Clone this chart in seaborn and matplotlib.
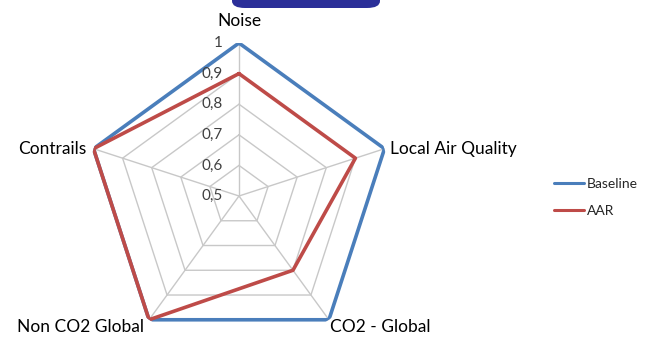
import numpy as np
import pandas as pd
import matplotlib
matplotlib.use('Agg')
import matplotlib.pyplot as plt
from matplotlib.patches import FancyBboxPatch
from matplotlib.lines import Line2D
import seaborn as sns

# data
categories = ['Noise', 'Local Air Quality', 'CO2 - Global', 'Non CO2 Global', 'Contrails']
baseline = [1.0, 1.0, 1.0, 1.0, 1.0]
aar = [0.9, 0.9, 0.8, 1.0, 1.0]
ring_levels = [0.5, 0.6, 0.7, 0.8, 0.9, 1.0]
ring_labels = ['0,5', '0,6', '0,7', '0,8', '0,9', '1']

sns.set_style('white')
plt.rcParams['font.family'] = ['Lato', 'DejaVu Sans']

angles = np.linspace(0, 2 * np.pi, len(categories), endpoint=False)
loop = np.append(angles, angles[0])

# long table for seaborn, closing each polygon
rows = []
for name, vals in [('Baseline', baseline), ('AAR', aar)]:
    closed = vals + [vals[0]]
    for i, (t, v) in enumerate(zip(loop, closed)):
        rows.append({'series': name, 'order': i, 'theta': t, 'value': v})
df = pd.DataFrame(rows)

fig = plt.figure(figsize=(6.52, 3.49), dpi=100)
ax = fig.add_axes([0.1319, 0.0, 0.4693, 0.8768], projection='polar')
ax.set_theta_offset(np.pi / 2)
ax.set_theta_direction(-1)
ax.set_ylim(0.5, 1.0)
ax.grid(False)
ax.spines['polar'].set_visible(False)
ax.set_xticks([])
ax.set_yticks([])

# pentagon grid
for lvl in ring_levels[1:]:
    ax.plot(loop, [lvl] * len(loop), color='#c8c8c8', lw=1, zorder=1)
for t in angles:
    ax.plot([t, t], [0.5, 1.0], color='#c8c8c8', lw=1, zorder=1)

palette = {'Baseline': '#4a7ebb', 'AAR': '#be4b48'}
sns.lineplot(data=df, x='theta', y='value', hue='series', units='series', estimator=None,
             sort=False, palette=palette, lw=2.6, legend=False, ax=ax, zorder=3)
ax.set_xlabel('')
ax.set_ylabel('')

# radial value labels along the top spoke
for lvl, lab in zip(ring_levels, ring_labels):
    ax.annotate(lab, xy=(0, lvl), xytext=(-12, 0), textcoords='offset points',
                ha='right', va='center', fontsize=11, color='#404040')

# category labels
offsets = [((0, 10), 'center', 'bottom'),
           ((4, 0), 'left', 'center'),
           ((1, -5), 'left', 'center'),
           ((-4, -5), 'right', 'center'),
           ((-5, 0), 'right', 'center')]
for t, cat, (off, ha, va) in zip(angles, categories, offsets):
    ax.annotate(cat, xy=(t, 1.0), xytext=off, textcoords='offset points',
                ha=ha, va=va, fontsize=12.5, color='black')

# legend
handles = [Line2D([0], [0], color=palette['Baseline'], lw=2.2),
           Line2D([0], [0], color=palette['AAR'], lw=2.2)]
fig.legend(handles, ['Baseline', 'AAR'], loc='center left', bbox_to_anchor=(0.83, 0.435),
           frameon=False, fontsize=10, handlelength=2.2, handletextpad=0.2, labelspacing=1.1)

# dark blue title box cut off at the top
box = FancyBboxPatch((232 / 652, 1 - 8 / 349), 148 / 652, 30 / 349,
                     boxstyle='round,pad=0,rounding_size=0.02', transform=fig.transFigure,
                     facecolor='#2b2f99', edgecolor='none', clip_on=False)
fig.patches.append(box)

fig.savefig('out.png', dpi=100)
